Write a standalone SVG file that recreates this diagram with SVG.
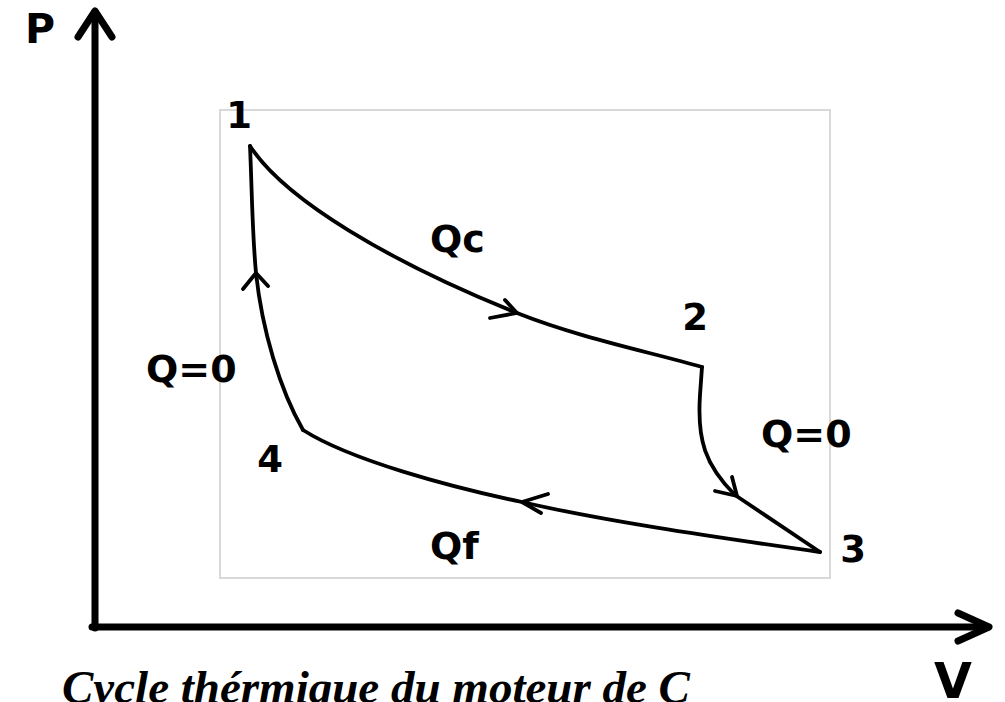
<svg xmlns="http://www.w3.org/2000/svg" width="1005" height="702" viewBox="0 0 1005 702">
  <style>
    .axis { fill: none; stroke: #000; stroke-width: 7; stroke-linecap: round; stroke-linejoin: round; }
    .curve { fill: none; stroke: #000; stroke-width: 3.8; stroke-linecap: round; stroke-linejoin: round; }
    .head { fill: none; stroke: #000; stroke-width: 3.8; stroke-linecap: round; stroke-linejoin: round; }
    .lbl { font-family: "DejaVu Sans", Verdana, sans-serif; font-weight: bold; fill: #000; }
    .cap { font-family: "Liberation Serif", "Times New Roman", serif; font-weight: bold; font-style: italic; fill: #000; }
  </style>
  <rect width="1005" height="702" fill="#fff"/>
  <g id="frame">
    <rect x="220" y="110" width="610" height="468" fill="none" stroke="#d9d9d9" stroke-width="2"/>
  </g>
  <g id="axes">
    <path class="axis" d="M95,628 L95,12"/>
    <path class="axis" d="M78,37 L95,11 L112,37"/>
    <path class="axis" d="M92,627 L988,627"/>
    <path class="axis" d="M958,613 L989,627 L958,641"/>
    <text class="lbl" x="25" y="43" font-size="41">P</text>
    <text class="lbl" x="934" y="698" font-size="49">V</text>
  </g>
  <g id="connectors">
    <path id="c12" class="curve" d="M250,146 C285,200 390,262 517,313 C580,338 650,352 702,367"/>
    <path id="c23" class="curve" d="M702,367 L700,395 C697,440 705,465 735,495 L820,552"/>
    <path id="c34" class="curve" d="M820,552 C700,535 600,520 522,502 C450,487 350,460 303,430"/>
    <path id="c41" class="curve" d="M303,430 C280,390 262,330 256,273 C252,230 252,190 250,146"/>
    <path class="head" d="M490,318 L517,313 L505,300"/>
    <path class="head" d="M715,491 L737,496 L732,477"/>
    <path class="head" d="M548,494 L522,502 L541,513"/>
    <path class="head" d="M243,289 L256,273 L268,286"/>
  </g>
  <g id="state1"><text class="lbl" x="239" y="128" font-size="37" text-anchor="middle">1</text></g>
  <g id="state2"><text class="lbl" x="695" y="330" font-size="37" text-anchor="middle">2</text></g>
  <g id="state3"><text class="lbl" x="853" y="562" font-size="37" text-anchor="middle">3</text></g>
  <g id="state4"><text class="lbl" x="270" y="472" font-size="37" text-anchor="middle">4</text></g>
  <g id="labels">
    <text class="lbl" x="430" y="252" font-size="38">Qc</text>
    <text class="lbl" x="430" y="559" font-size="38">Qf</text>
    <text class="lbl" x="146" y="382" font-size="38">Q=0</text>
    <text class="lbl" x="761" y="447" font-size="38">Q=0</text>
  </g>
  <g id="caption">
    <text class="cap" x="62" y="703" font-size="47">Cycle thérmique du moteur de C</text>
  </g>
</svg>
